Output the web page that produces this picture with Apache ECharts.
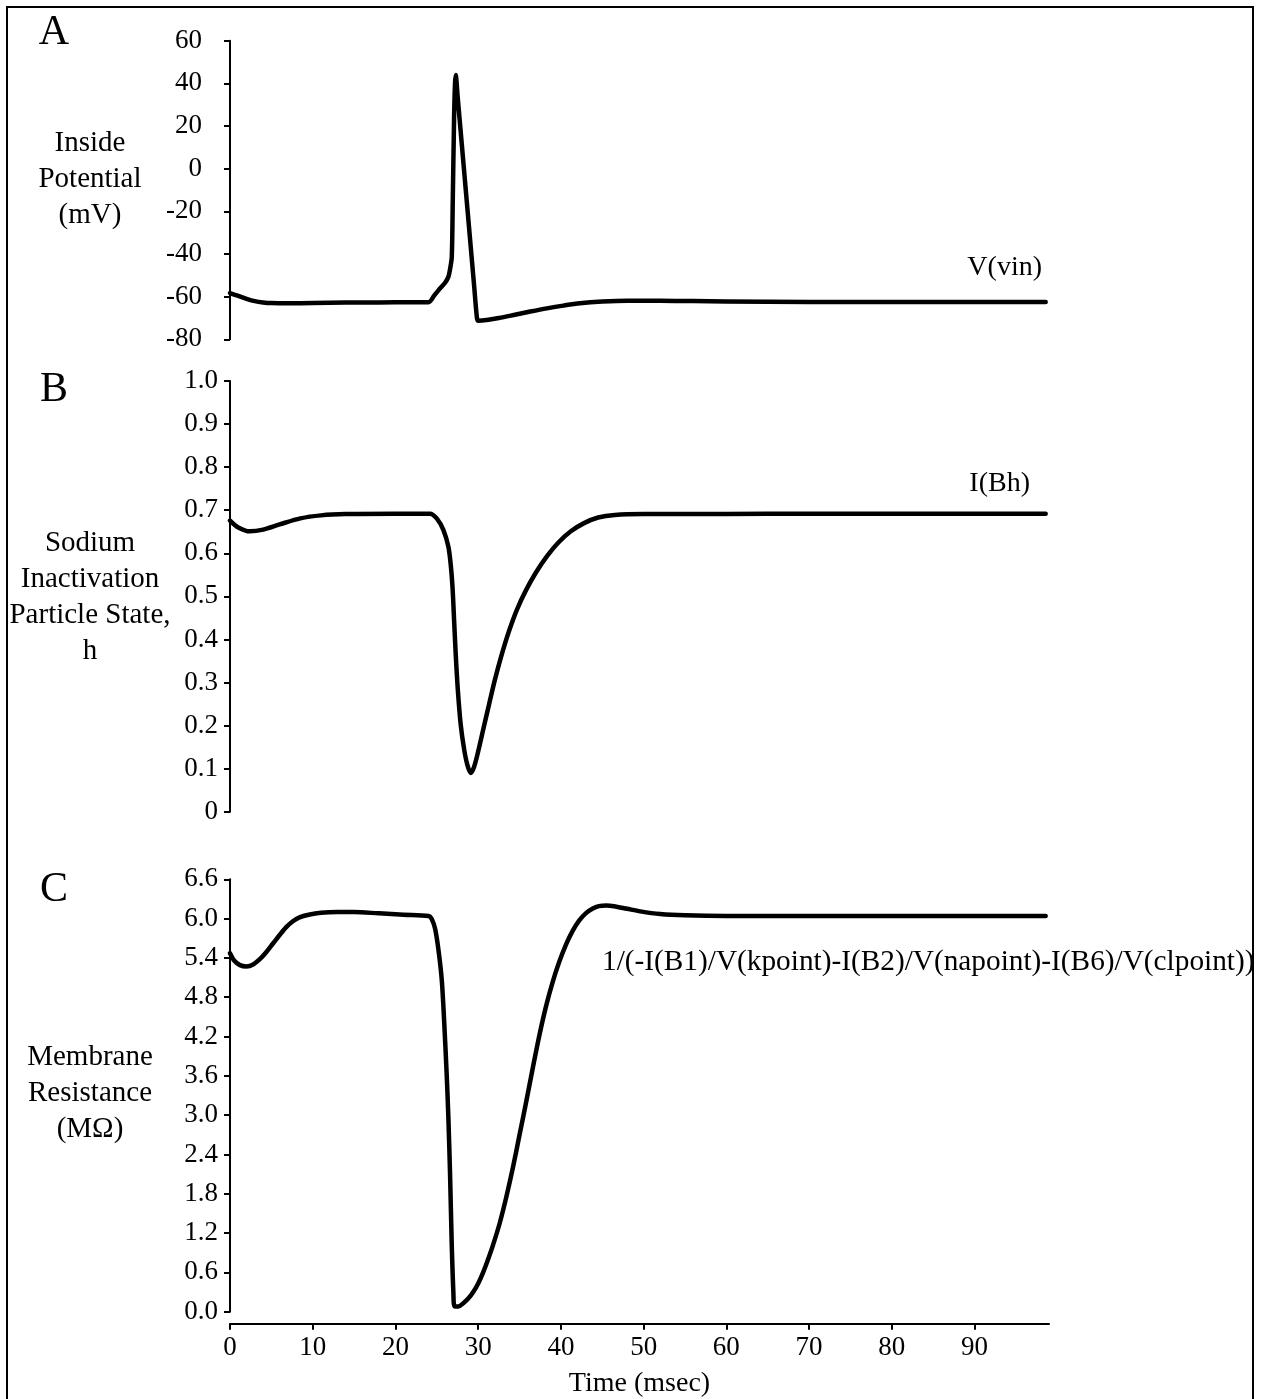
<!DOCTYPE html>
<html>
<head>
<meta charset="utf-8">
<script src="https://cdn.jsdelivr.net/npm/echarts@6.0.0/dist/echarts.min.js"></script>
<style>
  html, body { margin: 0; padding: 0; background: #fff; }
  #chart { width: 1261px; height: 1399px; }
</style>
</head>
<body>
<div id="chart"></div>
<script>
// panel A: inside potential V(vin), mV
let timeA = [0, 1, 2, 3, 4, 5, 7, 10, 14, 18, 22, 24.0, 24.7, 25.4, 26.0, 26.4, 26.65, 26.81, 26.93, 27.09, 27.2, 27.29, 27.4, 27.5, 28.0, 28.5, 29.0, 29.5, 29.85, 30.0, 31, 32.5, 34.3, 36.3, 38.3, 40.3, 42.3, 45, 48, 52, 56, 60, 70, 80, 90, 98.6];
let vinA = [-58.3, -59.6, -61.0, -62.1, -62.7, -63.0, -63.1, -63.0, -62.8, -62.7, -62.6, -62.6, -59.4, -56.1, -53.5, -50.7, -46.0, -41.3, -14.7, 24.4, 40.0, 43.9, 40.0, 34.6, 12.3, -10.0, -32.2, -54.5, -70.0, -71.3, -71.0, -70.0, -68.6, -67.0, -65.5, -64.2, -63.1, -62.3, -61.9, -61.9, -62.1, -62.3, -62.5, -62.5, -62.5, -62.5];

// panel B: sodium inactivation particle state h
let timeB = [0, 1, 2.4, 4, 6, 8.5, 11, 14, 20, 24.18, 24.99, 25.8, 26.4, 26.7, 26.9, 27.1, 27.3, 27.55, 27.9, 28.3, 28.7, 29.1, 29.5, 30.0, 30.6, 31.3, 32.0, 32.8, 33.7, 34.7, 35.8, 37.0, 38.3, 39.7, 41.2, 42.8, 44.5, 46.5, 50, 60, 70, 80, 90, 98.6];
let hB = [0.676, 0.660, 0.651, 0.655, 0.667, 0.681, 0.688, 0.691, 0.692, 0.692, 0.681, 0.654, 0.615, 0.570, 0.520, 0.440, 0.360, 0.280, 0.200, 0.145, 0.108, 0.090, 0.104, 0.140, 0.190, 0.248, 0.305, 0.362, 0.418, 0.470, 0.515, 0.556, 0.593, 0.625, 0.651, 0.670, 0.683, 0.689, 0.691, 0.691, 0.692, 0.692, 0.692, 0.692];

// panel C: membrane resistance, MOhm
let timeC = [0, 0.5, 1.2, 2.0, 2.8, 3.6, 4.4, 5.2, 6.0, 6.8, 7.6, 8.4, 9.5, 11, 13, 15, 18, 21, 24.0, 24.4, 24.8, 25.2, 25.6, 25.9, 26.2, 26.4, 26.6, 26.8, 27.0, 27.15, 27.6, 28.2, 28.8, 29.4, 30.0, 30.6, 31.2, 31.8, 32.6, 33.4, 34.2, 35.0, 35.8, 36.6, 37.4, 38.2, 39.0, 39.8, 40.6, 41.4, 42.2, 43.0, 43.8, 44.6, 45.5, 46.4, 48, 49.6, 52, 55, 60, 70, 80, 90, 98.6];
let resC = [5.47, 5.36, 5.29, 5.27, 5.30, 5.38, 5.49, 5.62, 5.75, 5.87, 5.96, 6.02, 6.06, 6.09, 6.10, 6.10, 6.08, 6.06, 6.04, 5.99, 5.84, 5.52, 5.06, 4.40, 3.60, 2.95, 2.10, 1.05, 0.30, 0.08, 0.08, 0.13, 0.20, 0.30, 0.43, 0.60, 0.80, 1.02, 1.35, 1.75, 2.20, 2.70, 3.20, 3.72, 4.22, 4.66, 5.03, 5.34, 5.60, 5.81, 5.97, 6.08, 6.15, 6.19, 6.20, 6.19, 6.15, 6.11, 6.07, 6.05, 6.04, 6.04, 6.04, 6.04, 6.04];

let xTicks = [0, 10, 20, 30, 40, 50, 60, 70, 80, 90];
let yTicksA = [-80, -60, -40, -20, 0, 20, 40, 60];
let yTicksB = [0, 0.1, 0.2, 0.3, 0.4, 0.5, 0.6, 0.7, 0.8, 0.9, 1.0];
let yTicksC = [0, 0.6, 1.2, 1.8, 2.4, 3.0, 3.6, 4.2, 4.8, 5.4, 6.0, 6.6];

const serif = "'Liberation Serif', 'Times New Roman', serif";

function pairs(xs, ys) {
    let out = [];
    for (let i = 0; i < xs.length; i++) {
        out.push([xs[i], ys[i]]);
    }
    return out;
}

function yAxisFor(idx, min, max, ticks, margin, fmt) {
    return {
        type: 'value',
        gridIndex: idx,
        min: min,
        max: max,
        axisLine: { show: true, lineStyle: { color: '#000', width: 2 } },
        axisTick: { show: true, length: 6, lineStyle: { color: '#000', width: 2 }, customValues: ticks },
        axisLabel: {
            color: '#000', fontFamily: serif, fontSize: 27, margin: margin,
            customValues: ticks, formatter: fmt
        },
        splitLine: { show: false }
    };
}

function xAxisFor(idx, show) {
    return {
        type: 'value',
        gridIndex: idx,
        min: 0,
        max: 99,
        show: show,
        offset: show ? 12 : 0,
        name: show ? 'Time (msec)' : '',
        nameLocation: 'middle',
        nameGap: 46,
        nameTextStyle: { color: '#000', fontFamily: serif, fontSize: 28 },
        axisLine: { show: true, onZero: false, lineStyle: { color: '#000', width: 2 } },
        axisTick: { show: true, length: 6, lineStyle: { color: '#000', width: 2 }, customValues: xTicks },
        axisLabel: { color: '#000', fontFamily: serif, fontSize: 27, margin: 11, customValues: xTicks },
        splitLine: { show: false }
    };
}

function lineSeries(idx, data) {
    return {
        type: 'line',
        xAxisIndex: idx,
        yAxisIndex: idx,
        data: data,
        showSymbol: false,
        smooth: 0.3,
        lineStyle: { color: '#000', width: 4.5, cap: 'round', join: 'round' }
    };
}

function label(x, y, text, size, align) {
    return {
        type: 'text', x: x, y: y,
        style: {
            text: text, fill: '#000', fontFamily: serif, fontSize: size,
            lineHeight: 36, textAlign: align || 'center', textVerticalAlign: 'middle'
        }
    };
}

let chart = echarts.init(document.getElementById('chart'));
chart.setOption({
    animation: false,
    backgroundColor: '#fff',
    grid: [
        { left: 230, top: 40.7, width: 819, height: 298.6 },
        { left: 230, top: 381, width: 819, height: 430.7 },
        { left: 230, top: 879.3, width: 819, height: 432.4 }
    ],
    xAxis: [xAxisFor(0, false), xAxisFor(1, false), xAxisFor(2, true)],
    yAxis: [
        yAxisFor(0, -80, 60, yTicksA, 28, function (v) { return String(Math.round(v)); }),
        yAxisFor(1, 0, 1, yTicksB, 12, function (v) { return v === 0 ? '0' : v.toFixed(1); }),
        yAxisFor(2, 0, 6.6, yTicksC, 12, function (v) { return v.toFixed(1); })
    ],
    series: [
        lineSeries(0, pairs(timeA, vinA)),
        lineSeries(1, pairs(timeB, hB)),
        lineSeries(2, pairs(timeC, resC))
    ],
    graphic: [
        { type: 'rect', shape: { x: 7, y: 7, width: 1246, height: 1420 }, style: { fill: 'none', stroke: '#000', lineWidth: 2 } },
        label(54, 33, 'A', 42),
        label(54, 390, 'B', 42),
        label(54, 890, 'C', 42),
        label(90, 179, 'Inside\nPotential\n(mV)', 29),
        label(90, 597, 'Sodium\nInactivation\nParticle State,\nh', 29),
        label(90, 1093, 'Membrane\nResistance\n(MΩ)', 29),
        label(1042, 268, 'V(vin)', 28, 'right'),
        label(1030, 484, 'I(Bh)', 28, 'right'),
        label(602, 962, '1/(-I(B1)/V(kpoint)-I(B2)/V(napoint)-I(B6)/V(clpoint))', 29.3, 'left')
    ]
});
</script>
</body>
</html>
